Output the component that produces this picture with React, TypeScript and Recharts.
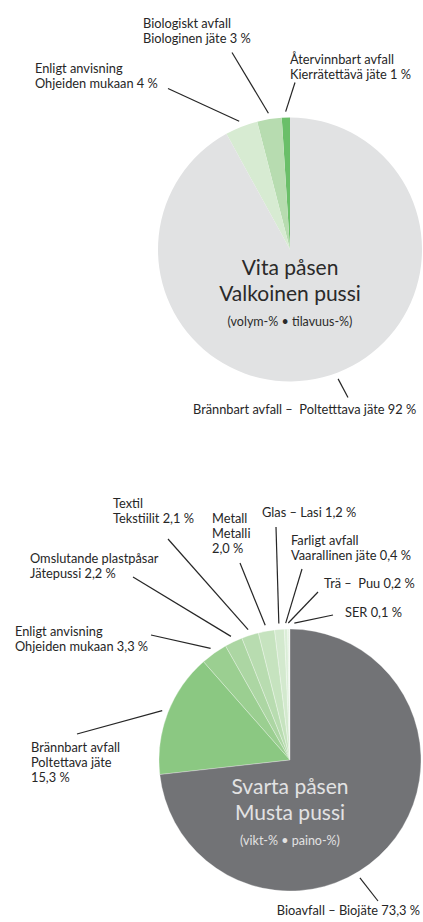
import { PieChart, Pie, Cell } from "recharts";

// Vita påsen (volym-%)
const whiteValues = [1, 3, 4, 92];
const whiteLabels = [
  ["Återvinnbart avfall", "Kierrätettävä jäte 1 %"],
  ["Biologiskt avfall", "Biologinen jäte 3 %"],
  ["Enligt anvisning", "Ohjeiden mukaan 4 %"],
  ["Brännbart avfall –  Poltetttava jäte 92 %"],
];
const whiteColors = ["#6abf69", "#b7dcb0", "#d7ebd2", "#e1e2e3"];
const whiteTitle = ["Vita påsen", "Valkoinen pussi", "(volym-% • tilavuus-%)"];

// Svarta påsen (vikt-%)
const blackValues = [0.1, 0.2, 0.4, 1.2, 2.0, 2.1, 2.2, 3.3, 15.3, 73.3];
const blackLabels = [
  ["SER 0,1 %"],
  ["Trä –  Puu 0,2 %"],
  ["Farligt avfall", "Vaarallinen jäte 0,4 %"],
  ["Glas – Lasi 1,2 %"],
  ["Metall", "Metalli", "2,0 %"],
  ["Textil", "Tekstiilit 2,1 %"],
  ["Omslutande plastpåsar", "Jätepussi 2,2 %"],
  ["Enligt anvisning", "Ohjeiden mukaan 3,3 %"],
  ["Brännbart avfall", "Poltettava jäte", "15,3 %"],
  ["Bioavfall – Biojäte 73,3 %"],
];
const blackColors = [
  "#eef6ec", "#e4f1e1", "#dbeed8", "#d3e9ce", "#c6e3bf",
  "#b8dcb0", "#acd6a3", "#9bcf91", "#8bc882", "#727376",
];
const blackTitle = ["Svarta påsen", "Musta pussi", "(vikt-% • paino-%)"];

// label placement, relative to pie centre: line end, text start
type LabelPos = { end: [number, number]; text: [number, number]; shift?: number; anchor?: "start" | "end" };

const whiteLayout: LabelPos[] = [
  { end: [5, -167], text: [0, -186] },
  { end: [-58, -197], text: [-147, -222] },
  { end: [-122, -161], text: [-255, -177] },
  { end: [58, 148], text: [-97, 164], shift: 6 },
];

const blackLayout: LabelPos[] = [
  { end: [43, -145], text: [55, -143], shift: -2 },
  { end: [28, -168], text: [34, -172] },
  { end: [12, -191], text: [1, -215] },
  { end: [-14, -233], text: [-28, -243] },
  { end: [-50, -197], text: [-78, -237] },
  { end: [-122, -221], text: [-177, -252] },
  { end: [-157, -183], text: [-260, -197] },
  { end: [-139, -125], text: [-275, -124] },
  { end: [-213, -26], text: [-259, -8] },
  { end: [88, 141], text: [130, 155], shift: -17.5, anchor: "end" },
];

const RAD = Math.PI / 180;
const FONT = "Lato, 'Noto Sans', sans-serif";
const INK = "#262626";

const makeLabel =
  (lines: string[][], layout: LabelPos[], title: string[], titleColor: string, titleY: number) =>
  (props: any) => {
    const { cx, cy, midAngle, outerRadius, index } = props;
    const pos = layout[index];
    const a = (midAngle + (pos.shift || 0)) * RAD;
    const r = outerRadius + 6;
    const x1 = cx + r * Math.cos(a);
    const y1 = cy - r * Math.sin(a);
    const tx = cx + pos.text[0];
    const ty = cy + pos.text[1];
    return (
      <g>
        <line x1={x1} y1={y1} x2={cx + pos.end[0]} y2={cy + pos.end[1]} stroke={INK} strokeWidth={1.2} />
        <text
          x={tx}
          y={ty}
          fontSize={12.8}
          fill={INK}
          fontFamily={FONT}
          textAnchor={pos.anchor || "start"}
          style={{ whiteSpace: "pre" }}
        >
          {lines[index].map((s, i) => (
            <tspan key={i} x={tx} dy={i === 0 ? 0 : 15}>
              {s}
            </tspan>
          ))}
        </text>
        {index === 0 && (
          <text x={cx} y={cy + titleY} textAnchor="middle" fill={titleColor} fontFamily={FONT}>
            <tspan x={cx} fontSize={21}>{title[0]}</tspan>
            <tspan x={cx} dy={26} fontSize={21}>{title[1]}</tspan>
            <tspan x={cx} dy={25} fontSize={12.5}>{title[2]}</tspan>
          </text>
        )}
      </g>
    );
  };

export default function App() {
  const whiteData = whiteValues.map((value, i) => ({ name: whiteLabels[i][0], value }));
  const blackData = blackValues.map((value, i) => ({ name: blackLabels[i][0], value }));

  return (
    <div style={{ position: "absolute", left: 0, top: 0, width: 423, height: 922, background: "#fff" }}>
      <PieChart width={423} height={922} margin={{ top: 0, right: 0, bottom: 0, left: 0 }}>
        <Pie
          data={whiteData}
          dataKey="value"
          cx={290}
          cy={249.5}
          outerRadius={132}
          startAngle={90}
          endAngle={450}
          stroke="none"
          labelLine={false}
          label={makeLabel(whiteLabels, whiteLayout, whiteTitle, "#2a2a2a", 25)}
          isAnimationActive={false}
        >
          {whiteData.map((_, i) => (
            <Cell key={i} fill={whiteColors[i]} />
          ))}
        </Pie>
        <Pie
          data={blackData}
          dataKey="value"
          cx={290}
          cy={760}
          outerRadius={131}
          startAngle={90}
          endAngle={450}
          stroke="#ffffff"
          strokeWidth={0.6}
          strokeOpacity={0.5}
          labelLine={false}
          label={makeLabel(blackLabels, blackLayout, blackTitle, "#e2e2e3", 34)}
          isAnimationActive={false}
        >
          {blackData.map((_, i) => (
            <Cell key={i} fill={blackColors[i]} />
          ))}
        </Pie>
      </PieChart>
    </div>
  );
}
